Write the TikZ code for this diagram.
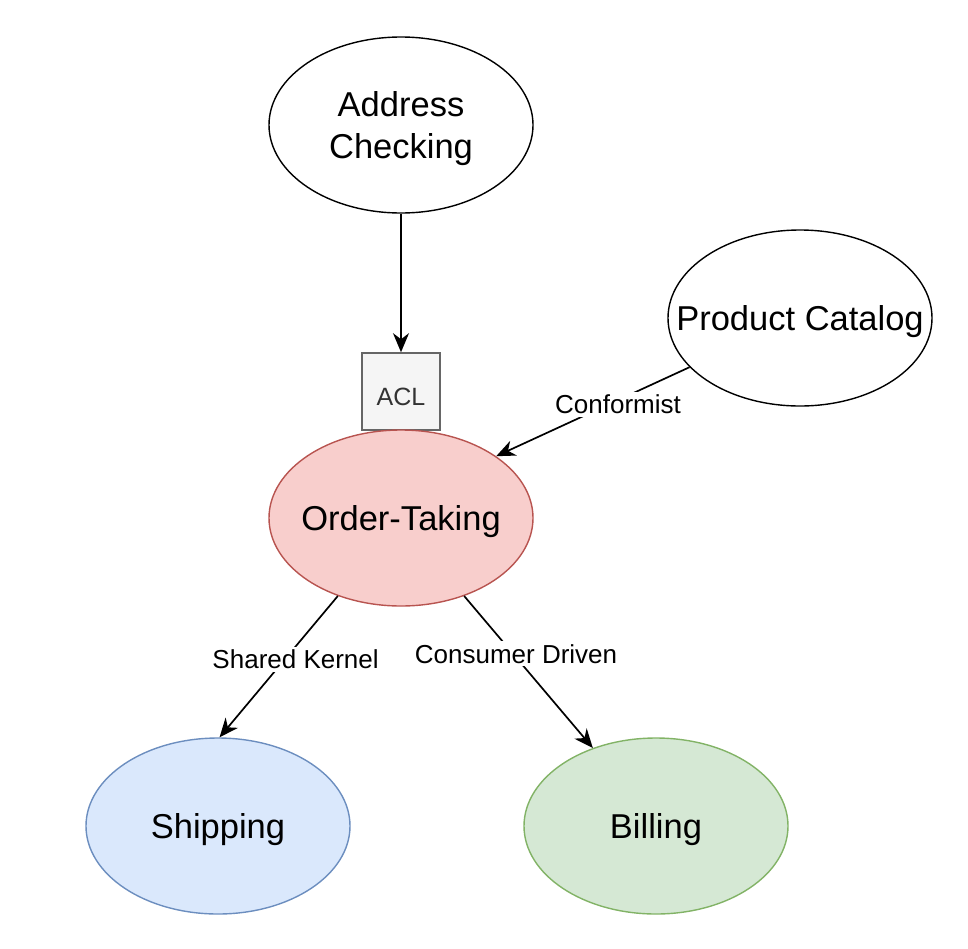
\documentclass[tikz,border=0pt]{standalone}
\usepackage{fontspec}
\setmainfont{Liberation Sans}
\usetikzlibrary{shapes.geometric,arrows.meta}
\definecolor{otfill}{HTML}{F8CECC}
\definecolor{otdraw}{HTML}{B85450}
\definecolor{shfill}{HTML}{DAE8FC}
\definecolor{shdraw}{HTML}{6C8EBF}
\definecolor{bifill}{HTML}{D5E8D4}
\definecolor{bidraw}{HTML}{82B366}
\definecolor{aclfill}{HTML}{F5F5F5}
\definecolor{acldraw}{HTML}{666666}
\definecolor{acltext}{HTML}{333333}
\newcommand{\elltext}[1]{\makebox[0pt]{\raisebox{-4pt}[\height][\depth]{#1}}}
\begin{document}
\begin{tikzpicture}[x=1pt,y=-1pt,
  ell/.style={ellipse, draw, line width=1.4pt, minimum width=264pt, minimum height=176pt, inner sep=0pt, font=\fontsize{34.5}{42}\selectfont},
  conn/.style={line width=1.7pt, -{Stealth[length=19pt,width=16pt,inset=6pt]}},
  elab/.style={fill=white, inner sep=3pt, font=\fontsize{26}{30}\selectfont},
  aclbox/.style={rectangle, draw=acldraw, fill=aclfill, text=acltext, line width=1.6pt, minimum width=78pt, minimum height=77pt, inner sep=0pt, font=\fontsize{25}{30}\selectfont}]
\useasboundingbox (0,0) rectangle (968,948);
\node[ell] (ac) at (401,125) {\elltext{\setlength{\tabcolsep}{0pt}\begin{tabular}{c}Address\\Checking\end{tabular}}};
\node[ell] (pc) at (800,318) {\elltext{Product Catalog}};
\node[aclbox] (acl) at (401,391.5) {\raisebox{-5pt}[\height][\depth]{ACL}};
\node[ell, fill=otfill, draw=otdraw] (ot) at (401,518) {\elltext{Order-Taking}};
\node[ell, fill=shfill, draw=shdraw] (sh) at (218,826) {\elltext{Shipping}};
\node[ell, fill=bifill, draw=bidraw] (bi) at (656,826) {\elltext{Billing}};
\draw[conn] (ac.south) -- (acl.north);
\draw[conn] (pc.204) -- node[elab, pos=0.37, yshift=-4pt] (lc) {Conformist} (ot.33);
\draw[conn] (ot.231) -- node[elab, pos=0.45, xshift=11pt] (ls) {Shared Kernel} (sh.89);
\draw[conn] (ot.309) -- node[elab, pos=0.38, xshift=3pt] (lb) {Consumer Driven} (bi.129);
\end{tikzpicture}
\end{document}
